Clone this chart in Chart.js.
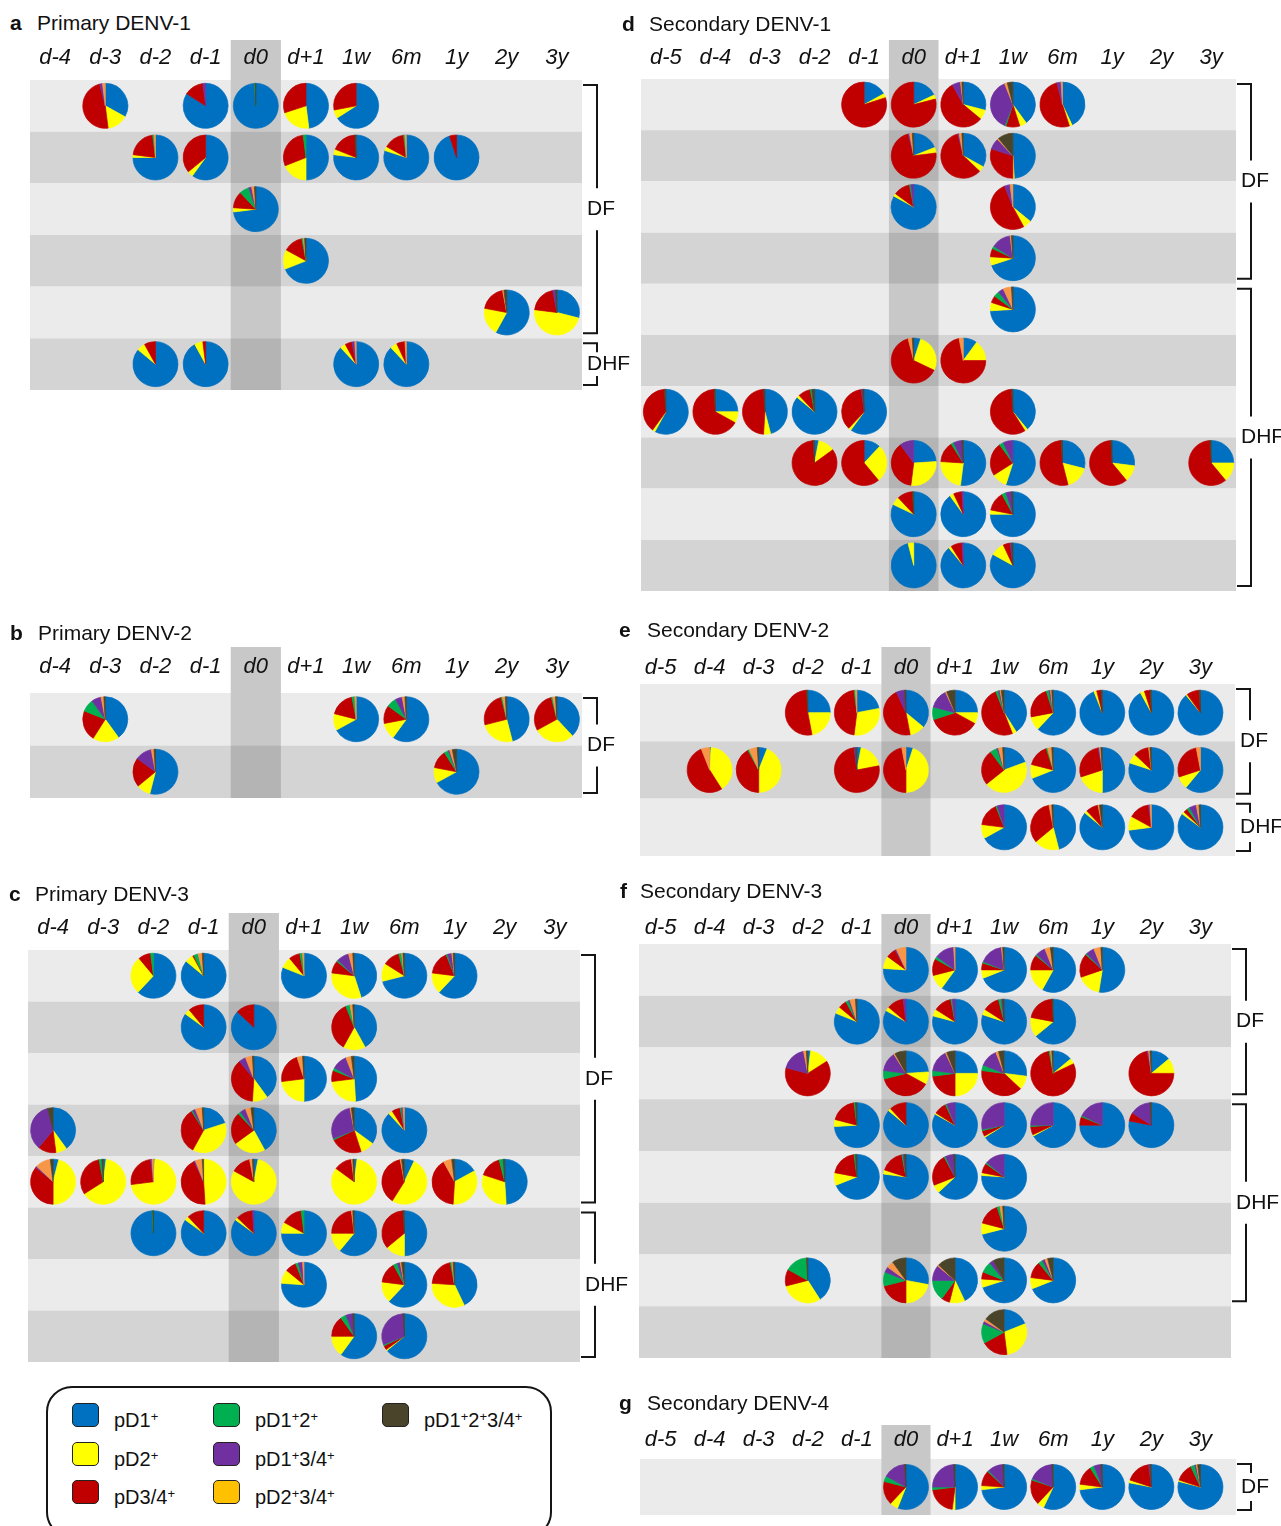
<!DOCTYPE html>
<html>
<head>
<meta charset="utf-8">
<title>Memory B cell serotype profiles</title>
<script src="https://cdn.jsdelivr.net/npm/chart.js@4.4.1/dist/chart.umd.min.js"></script>
<style>
html,body{margin:0;padding:0;background:#fff;}
body{width:1281px;height:1526px;position:relative;overflow:hidden;font-family:'Liberation Sans',Arial,Helvetica,sans-serif;color:#111;}
canvas{position:absolute;left:0;top:0;}
.ttl{position:absolute;font-size:21px;line-height:21px;white-space:nowrap;color:#111;}
.ttl b{font-weight:bold;}
#legend{position:absolute;left:46px;top:1386px;width:506px;height:152px;border:2px solid #151515;border-radius:26px;box-sizing:border-box;}
.sw{position:absolute;width:27px;height:24px;border:1.5px solid #222;border-radius:5px;box-sizing:border-box;}
.li{position:absolute;font-size:20px;line-height:20px;white-space:nowrap;color:#111;}
.li sup{font-size:13px;line-height:0;position:relative;top:-6px;vertical-align:baseline;}
</style>
</head>
<body>
<div id="legend"></div>
<script>
// ---------------- DATA ----------------
const categories = ['pD1+','pD2+','pD3/4+','pD1+2+','pD1+3/4+','pD2+3/4+','pD1+2+3/4+'];
const sliceColors = ['#0070C0','#FFFF00','#C00000','#00B050','#7030A0','#F79646','#4A452A'];
const legendSwatchColors = ['#0070C0','#FFFF00','#C00000','#00B050','#7030A0','#FFC000','#4A452A'];

const primaryTimepoints = ['d-4','d-3','d-2','d-1','d0','d+1','1w','6m','1y','2y','3y'];
const secondaryTimepoints = ['d-5','d-4','d-3','d-2','d-1','d0','d+1','1w','6m','1y','2y','3y'];

const panelLetters = ['a','b','c','d','e','f','g'];
const panelTitles = ['Primary DENV-1','Primary DENV-2','Primary DENV-3','Secondary DENV-1','Secondary DENV-2','Secondary DENV-3','Secondary DENV-4'];
const rowCounts = [6,2,8,10,3,8,1];

// each pie: [row, timepoint, [pD1+, pD2+, pD3/4+, pD1+2+, pD1+3/4+, pD2+3/4+, pD1+2+3/4+] (%)]
const piesA = [
 [1,'d-3',[33,15,48,0,2,2,0]],[1,'d-1',[84,0,14,0,2,0,0]],[1,'d0',[99,0,0,0.5,0,0,0.5]],[1,'d+1',[48,22,30,0,0,0,0]],[1,'1w',[66,6,28,0,0,0,0]],
 [2,'d-2',[75,2,21,1,0,1,0]],[2,'d-1',[60,4,36,0,0,0,0]],[2,'d+1',[50,19,29,2,0,0,0]],[2,'1w',[77,4,18,0,0,0,1]],[2,'6m',[80,3,15,1,0,1,0]],[2,'1y',[95,0,5,0,0,0,0]],
 [3,'d0',[73,3,12,7,2,2,1]],
 [4,'d+1',[69,14,14,1,0,1,1]],
 [5,'2y',[58,20,19,0,0,1,2]],[5,'3y',[29,48,20,0,2,0,1]],
 [6,'d-2',[86,6,8,0,0,0,0]],[6,'d-1',[92,6,2,0,0,0,0]],[6,'1w',[88,4,5,0,2,1,0]],[6,'6m',[88,5,6,0,0,1,0]]
];
const piesB = [
 [1,'d-3',[40,19,22,9,7,2,1]],[1,'1w',[67,12,18,2,0,1,0]],[1,'6m',[60,12,13,7,5,2,1]],[1,'2y',[46,25,25,1,0,2,1]],[1,'3y',[38,29,29,1,0,2,1]],
 [2,'d-2',[54,10,21,0,12,2,1]],[2,'1y',[67,11,13,3,1,2,3]]
];
const piesC = [
 [1,'d-2',[62,27,9,2,0,0,0]],[1,'d-1',[86,6,1,3,0,3,1]],[1,'d+1',[81,8,8,2,0,1,0]],[1,'1w',[45,32,9,1,9,3,1]],[1,'6m',[71,13,12,2,0,1,1]],[1,'1y',[62,15,17,1,3,1,1]],
 [2,'d-1',[85,4,11,0,0,0,0]],[2,'d0',[87,0,13,0,0,0,0]],[2,'1w',[42,16,36,3,0,2,1]],
 [3,'d0',[40,11,38,0,5,5,1]],[3,'d+1',[50,23,22,0,0,4,1]],[3,'1w',[49,24,8,2,11,4,2]],
 [4,'d-4',[40,8,13,0,35,0,4]],[4,'d-1',[20,38,33,1,2,5,1]],[4,'d0',[42,23,23,2,4,4,2]],[4,'1w',[35,10,23,1,28,1,2]],[4,'6m',[88,3,6,1,1,1,0]],
 [5,'d-4',[4,46,36,0,1,11,2]],[5,'d-3',[2,64,31,2,0,0,1]],[5,'d-2',[1,72,25,0,1,1,0]],[5,'d-1',[0,49,44,0,1,5,1]],[5,'d0',[3,80,14,0,0,2,1]],[5,'1w',[2,83,13,0,0,1,1]],[5,'6m',[7,52,38,0,0,1,2]],[5,'1y',[17,34,41,0,0,6,2]],[5,'2y',[49,31,16,3,0,0,1]],
 [6,'d-2',[99,0,0,0.5,0,0,0.5]],[6,'d-1',[85,3,12,0,0,0,0]],[6,'d0',[85,2,12,0,1,0,0]],[6,'d+1',[75,8,15,2,0,0,0]],[6,'1w',[61,14,23,0,0,1,1]],[6,'6m',[50,14,35,0,0,0,1]],
 [7,'d+1',[76,10,8,2,3,1,0]],[7,'6m',[62,15,15,3,2,1,2]],[7,'1y',[43,33,21,1,0,1,1]],
 [8,'1w',[60,15,15,4,5,0,1]],[8,'6m',[64,1,3,1,30,0,1]]
];
const piesD = [
 [1,'d-1',[17,3,80,0,0,0,0]],[1,'d0',[18,3,79,0,0,0,0]],[1,'d+1',[29,7,56,0,6,1,1]],[1,'1w',[40,5,10,1,38,2,4]],[1,'6m',[43,2,51,0,3,1,0]],
 [2,'d0',[19,4,73,0,1,2,1]],[2,'d+1',[33,4,59,0,1,2,1]],[2,'1w',[49,1,30,0,8,1,11]],
 [3,'d0',[83,2,12,1,2,0,0]],[3,'1w',[36,6,52,0,4,2,0]],
 [4,'1w',[70,6,6,2,14,1,1]],
 [5,'1w',[74,6,5,4,4,6,1]],
 [6,'d0',[5,27,64,0,0,3,1]],[6,'d+1',[10,15,72,0,0,3,0]],
 [7,'d-5',[58,2,39,0,0,0,1]],[7,'d-4',[25,8,66,0,0,0,1]],[7,'d-3',[46,5,48,0,0,0,1]],[7,'d-2',[86,2,9,1,0,0,2]],[7,'d-1',[60,2,36,0,1,0,1]],[7,'1w',[39,2,58,0,0,0,1]],
 [8,'d-2',[3,12,84,0,0,0,1]],[8,'d-1',[12,27,61,0,0,0,0]],[8,'d0',[24,28,38,0,10,0,0]],[8,'d+1',[52,24,15,2,6,0,1]],[8,'1w',[55,11,24,3,7,0,0]],[8,'6m',[29,17,53,0,0,0,1]],[8,'1y',[27,12,60,0,0,0,1]],[8,'3y',[25,14,60,0,0,0,1]],
 [9,'d0',[82,6,11,0,0,0,1]],[9,'d+1',[90,3,6,0,1,0,0]],[9,'1w',[75,3,14,3,4,0,1]],
 [10,'d0',[96,4,0,0,0,0,0]],[10,'d+1',[89,2,8,0,1,0,0]],[10,'1w',[83,10,5,0,1,0,1]]
];
const piesE = [
 [1,'d-2',[25,22,52,0,0,0,1]],[1,'d-1',[22,30,46,1,0,1,0]],[1,'d0',[36,11,46,0,6,0,1]],[1,'d+1',[25,8,37,9,14,1,6]],[1,'1w',[41,3,50,2,1,1,2]],[1,'6m',[62,10,23,2,1,1,1]],[1,'1y',[94,2,3,0,0,0,1]],[1,'2y',[92,3,4,0,0,0,1]],[1,'3y',[89,1,9,0,0,0,1]],
 [2,'d-4',[1,40,53,0,0,6,0]],[2,'d-3',[6,44,42,1,0,6,1]],[2,'d-1',[3,19,76,0,1,0,1]],[2,'d0',[5,45,47,0,0,3,0]],[2,'1w',[19,44,25,5,1,3,1]],[2,'6m',[69,10,16,1,0,3,1]],[2,'1y',[50,20,27,0,1,1,1]],[2,'2y',[80,7,11,0,0,1,1]],[2,'3y',[61,9,27,0,0,3,0]],
 [3,'1w',[67,10,17,1,5,0,0]],[3,'6m',[46,18,33,0,0,2,1]],[3,'1y',[86,2,9,0,0,1,2]],[3,'2y',[73,10,15,0,1,1,0]],[3,'3y',[85,2,3,2,5,2,1]]
];
const piesF = [
 [1,'d0',[76,9,7,0,1,7,0]],[1,'d+1',[60,11,12,2,14,1,0]],[1,'1w',[69,6,5,1,17,1,1]],[1,'6m',[58,17,11,1,7,4,2]],[1,'1y',[52,17,17,1,6,5,1]],
 [2,'d-1',[81,5,6,2,1,4,1]],[2,'d0',[83,3,12,0,2,0,0]],[2,'d+1',[79,5,13,1,2,0,0]],[2,'1w',[80,4,12,2,1,0,1]],[2,'6m',[64,14,21,0,0,0,1]],
 [3,'d-2',[2,14,63,0,18,2,1]],[3,'d0',[24,9,38,6,14,1,8]],[3,'d+1',[25,25,23,4,16,1,6]],[3,'1w',[27,10,40,4,13,2,4]],[3,'6m',[14,4,79,1,0,1,1]],[3,'2y',[14,11,72,0,1,1,1]],
 [4,'d-1',[74,5,19,1,0,0,1]],[4,'d0',[86,2,12,0,0,0,0]],[4,'d+1',[83,1,9,1,6,0,0]],[4,'1w',[66,1,4,1,28,0,0]],[4,'6m',[67,1,6,1,25,0,0]],[4,'1y',[75,0,6,1,18,0,0]],[4,'2y',[78,0,6,0,15,0,1]],
 [5,'d-1',[69,9,20,1,0,0,1]],[5,'d0',[77,3,17,1,1,0,1]],[5,'d+1',[63,6,23,1,6,0,1]],[5,'1w',[76,2,7,1,14,0,0]],
 [6,'1w',[71,8,16,2,0,2,1]],
 [7,'d-2',[41,30,12,16,0,0,1]],[7,'d0',[28,22,21,10,4,5,10]],[7,'d+1',[43,11,6,15,11,1,13]],[7,'1w',[70,6,5,8,3,0,8]],[7,'6m',[69,8,12,3,2,2,4]],
 [8,'1w',[19,29,19,14,2,2,15]]
];
const piesG = [
 [1,'d0',[56,6,17,4,16,0,1]],[1,'d+1',[50,2,21,2,24,0,1]],[1,'1w',[73,3,11,1,11,0,1]],[1,'6m',[57,5,18,1,18,0,1]],[1,'1y',[73,4,14,3,5,0,1]],[1,'2y',[78,2,18,0,1,0,1]],[1,'3y',[79,1,13,3,1,1,2]]
];

// clinical groups: [label, first row, last row]
const groupsA = [['DF',1,5],['DHF',6,6]];
const groupsB = [['DF',1,2]];
const groupsC = [['DF',1,5],['DHF',6,8]];
const groupsD = [['DF',1,4],['DHF',5,10]];
const groupsE = [['DF',1,2],['DHF',3,3]];
const groupsF = [['DF',1,3],['DHF',4,7]];
const groupsG = [['DF',1,1]];

// ---------------- LAYOUT (not data) ----------------
const FONT = "'Liberation Sans', Arial, Helvetica, sans-serif";
const PAGE_W = 1281, PAGE_H = 1526;
const layoutA = {scaleL:30, scaleR:582, extL:0, extR:0, headTop:40, gridTop:80, gridBottom:390, tickPad:9, titleX:10, textX:37, titleBase:30};
const layoutB = {scaleL:30, scaleR:582, extL:0, extR:0, headTop:647, gridTop:693, gridBottom:798, tickPad:13, titleX:10, textX:38, titleBase:640};
const layoutC = {scaleL:28, scaleR:580, extL:0, extR:0, headTop:913, gridTop:950, gridBottom:1362, tickPad:9, titleX:9, textX:35, titleBase:901};
const layoutD = {scaleL:641, scaleR:1236, extL:0, extR:0, headTop:40, gridTop:79, gridBottom:591, tickPad:8, titleX:622, textX:649, titleBase:31};
const layoutE = {scaleL:636, scaleR:1225, extL:-4, extR:10, headTop:647, gridTop:684, gridBottom:856, tickPad:3, titleX:619, textX:647, titleBase:637};
const layoutF = {scaleL:636, scaleR:1225, extL:-3, extR:6, headTop:914, gridTop:944, gridBottom:1358, tickPad:3, titleX:620, textX:640, titleBase:898};
const layoutG = {scaleL:636, scaleR:1225, extL:-4, extR:11, headTop:1425, gridTop:1459, gridBottom:1515, tickPad:6, titleX:619, textX:647, titleBase:1410};
const PIE_R = 22.5;

Chart.defaults.font.family = FONT;

const ArcEl = (Chart.elements && Chart.elements.ArcElement) || Chart.ArcElement;

function drawSlice(ctx, x, y, a0, a1, color) {
  if (ArcEl) {
    try {
      const arc = new ArcEl({
        x: x, y: y, startAngle: a0, endAngle: a1, circumference: a1 - a0,
        innerRadius: 0, outerRadius: PIE_R,
        options: {backgroundColor: color, borderColor: color, borderWidth: 0.7, borderAlign: 'center',
                  borderRadius: 0, borderJoinStyle: 'round', borderDash: [], borderDashOffset: 0,
                  offset: 0, spacing: 0, circular: true, selfJoin: false}
      });
      arc.draw(ctx);
      return;
    } catch (e) { /* fall through */ }
  }
  ctx.beginPath();
  ctx.moveTo(x, y);
  ctx.arc(x, y, PIE_R, a0, a1);
  ctx.closePath();
  ctx.fillStyle = color; ctx.strokeStyle = color; ctx.lineWidth = 0.7;
  ctx.fill(); ctx.stroke();
}

function addTitle(letter, text, L) {
  const d = document.createElement('div');
  d.className = 'ttl';
  d.style.left = L.titleX + 'px';
  d.style.top = (L.titleBase - 18) + 'px';
  const b = document.createElement('b'); b.textContent = letter; d.appendChild(b);
  const s = document.createElement('span');
  s.textContent = text; s.style.position = 'absolute'; s.style.top = '0px';
  s.style.left = (L.textX - L.titleX) + 'px';
  d.appendChild(s);
  document.body.appendChild(d);
}

function makePanel(letter, title, labels, pies, groups, nRows, L) {
  addTitle(letter, title, L);
  const canvas = document.createElement('canvas');
  canvas.width = PAGE_W; canvas.height = PAGE_H;
  document.body.appendChild(canvas);

  const deco = {
    id: 'panelDeco' + letter,
    beforeDraw(chart) {
      const ctx = chart.ctx, xs = chart.scales.x, ys = chart.scales.y, ca = chart.chartArea;
      const bgL = ca.left - L.extL, bgR = ca.right + L.extR;
      ctx.save();
      for (let r = 1; r <= nRows; r++) {
        const t = ys.getPixelForValue(r - 0.5), b = ys.getPixelForValue(r + 0.5);
        ctx.fillStyle = (r % 2) ? '#EBEBEB' : '#D4D4D4';
        ctx.fillRect(bgL, t, bgR - bgL, b - t);
      }
      const i0 = labels.indexOf('d0');
      const colW = xs.getPixelForValue(1) - xs.getPixelForValue(0);
      const x0 = xs.getPixelForValue(i0) - colW / 2;
      ctx.fillStyle = 'rgba(0,0,0,0.15)';
      ctx.fillRect(x0, ca.top, colW, ca.bottom - ca.top);
      ctx.fillStyle = '#C8C8C8';
      ctx.fillRect(x0, xs.top, colW, ca.top - xs.top);
      ctx.restore();
    },
    afterDatasetsDraw(chart) {
      const ctx = chart.ctx;
      const meta = chart.getDatasetMeta(0);
      const data = chart.data.datasets[0].data;
      ctx.save();
      meta.data.forEach((pt, i) => {
        const v = data[i].v;
        const total = v.reduce((s, q) => s + q, 0);
        let a = -Math.PI / 2;
        v.forEach((val, k) => {
          if (!val) return;
          const da = val / total * Math.PI * 2;
          drawSlice(ctx, pt.x, pt.y, a, a + da, sliceColors[k]);
          a += da;
        });
      });
      ctx.restore();
    },
    afterDraw(chart) {
      const ctx = chart.ctx, ys = chart.scales.y, ca = chart.chartArea;
      const bgR = ca.right + L.extR;
      const lx = bgR + 15;
      ctx.save();
      ctx.strokeStyle = '#151515'; ctx.lineWidth = 2;
      ctx.fillStyle = '#111';
      ctx.font = '21px ' + FONT;
      ctx.textBaseline = 'middle'; ctx.textAlign = 'left';
      groups.forEach(g => {
        const top = ys.getPixelForValue(g[1] - 0.5) + 5;
        const bot = ys.getPixelForValue(g[2] + 0.5) - 5;
        const mid = (top + bot) / 2;
        const gap = Math.min(21, (bot - top) / 2 - 9);
        ctx.beginPath();
        ctx.moveTo(bgR + 1, top); ctx.lineTo(lx, top); ctx.lineTo(lx, mid - gap);
        ctx.moveTo(lx, mid + gap); ctx.lineTo(lx, bot); ctx.lineTo(bgR + 1, bot);
        ctx.stroke();
        ctx.fillText(g[0], lx - 10, mid);
      });
      ctx.restore();
    }
  };

  return new Chart(canvas, {
    type: 'scatter',
    data: {
      labels: labels,
      datasets: [{
        data: pies.map(p => ({x: p[1], y: p[0], v: p[2]})),
        pointRadius: 0, pointHoverRadius: 0, showLine: false
      }]
    },
    options: {
      responsive: false, animation: false, events: [],
      layout: {padding: {left: L.scaleL, right: PAGE_W - L.scaleR, top: L.headTop, bottom: PAGE_H - L.gridBottom}},
      plugins: {legend: {display: false}, tooltip: {enabled: false}, title: {display: false}},
      scales: {
        x: {
          type: 'category', labels: labels, position: 'top', offset: true,
          grid: {display: false, drawTicks: false}, border: {display: false},
          ticks: {font: {family: FONT, size: 22, style: 'italic'}, color: '#111', padding: L.tickPad, autoSkip: false, maxRotation: 0, minRotation: 0},
          afterFit: s => { s.height = L.gridTop - L.headTop; }
        },
        y: {type: 'linear', display: false, min: 0.5, max: nRows + 0.5, reverse: true}
      }
    },
    plugins: [deco]
  });
}

makePanel(panelLetters[0], panelTitles[0], primaryTimepoints, piesA, groupsA, rowCounts[0], layoutA);
makePanel(panelLetters[1], panelTitles[1], primaryTimepoints, piesB, groupsB, rowCounts[1], layoutB);
makePanel(panelLetters[2], panelTitles[2], primaryTimepoints, piesC, groupsC, rowCounts[2], layoutC);
makePanel(panelLetters[3], panelTitles[3], secondaryTimepoints, piesD, groupsD, rowCounts[3], layoutD);
makePanel(panelLetters[4], panelTitles[4], secondaryTimepoints, piesE, groupsE, rowCounts[4], layoutE);
makePanel(panelLetters[5], panelTitles[5], secondaryTimepoints, piesF, groupsF, rowCounts[5], layoutF);
makePanel(panelLetters[6], panelTitles[6], secondaryTimepoints, piesG, groupsG, rowCounts[6], layoutG);

// ---------------- LEGEND ----------------
const legend = document.getElementById('legend');
const legendColLeft = [24, 165, 334];
const legendRowTop = [15, 54, 92];
categories.forEach((name, i) => {
  const col = Math.floor(i / 3), row = i % 3;
  const sw = document.createElement('div');
  sw.className = 'sw';
  sw.style.left = legendColLeft[col] + 'px';
  sw.style.top = legendRowTop[row] + 'px';
  sw.style.background = legendSwatchColors[i];
  legend.appendChild(sw);
  const lb = document.createElement('div');
  lb.className = 'li';
  lb.style.left = (legendColLeft[col] + 42) + 'px';
  lb.style.top = (legendRowTop[row] + 7) + 'px';
  lb.innerHTML = name.replace(/\+/g, '<sup>+</sup>');
  legend.appendChild(lb);
});
</script>
</body>
</html>
